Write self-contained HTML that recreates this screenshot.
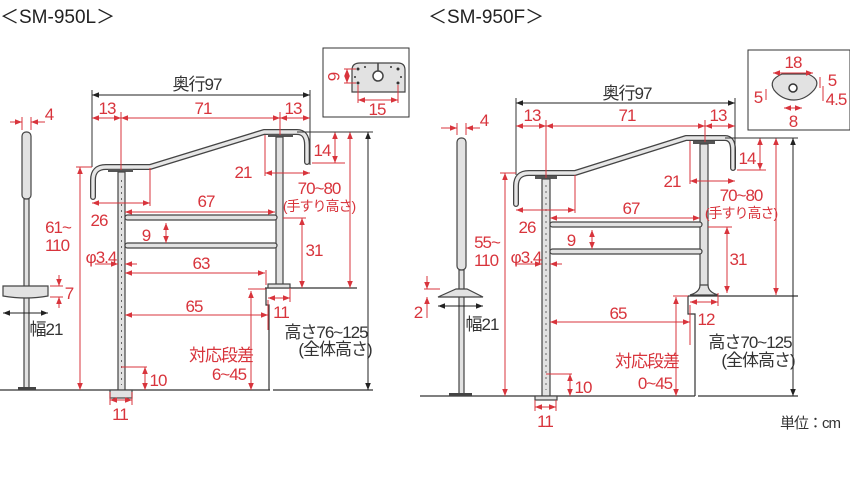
<!DOCTYPE html>
<html><head><meta charset="utf-8"><style>
html,body{margin:0;padding:0;background:#fff;}
svg{display:block;}
text{font-family:"Liberation Sans","Noto Sans CJK JP",sans-serif;}
.r{fill:#d8343c;font-size:17px;letter-spacing:-1px;text-anchor:middle;}
.k{fill:#333;font-size:17px;letter-spacing:-1px;text-anchor:middle;}
.d{stroke:#d8343c;stroke-width:1;fill:none;marker-start:url(#a);marker-end:url(#a);}
.e{stroke:#d8343c;stroke-width:1;fill:none;}
.kd{stroke:#222;stroke-width:1;fill:none;marker-start:url(#b);marker-end:url(#b);}
.g{stroke:#333;stroke-width:1.2;fill:none;}
.rail{stroke:#444;stroke-width:6;fill:none;stroke-linecap:round;stroke-linejoin:round;}
.rail2{stroke:#e6e6e6;stroke-width:3.4;fill:none;stroke-linecap:round;stroke-linejoin:round;}
.p{fill:#e2e2e2;stroke:#444;stroke-width:1.2;}
</style></head><body>
<svg width="850" height="500" viewBox="0 0 850 500" xmlns="http://www.w3.org/2000/svg">
<defs>
<marker id="a" viewBox="0 0 10 10" refX="10" refY="5" markerWidth="7" markerHeight="7" orient="auto-start-reverse"><path d="M0,1 L10,5 L0,9 z" fill="#d8343c"/></marker>
<marker id="b" viewBox="0 0 10 10" refX="10" refY="5" markerWidth="7" markerHeight="7" orient="auto-start-reverse"><path d="M0,1 L10,5 L0,9 z" fill="#222"/></marker>
</defs>

<text x="0" y="23" style="font-size:19px;fill:#222">＜SM-950L＞</text>
<text x="428" y="23" style="font-size:19px;fill:#222">＜SM-950F＞</text>

<!-- ===== LEFT ===== -->
<line x1="0" y1="390" x2="270" y2="390" class="g"/>
<line x1="273" y1="390" x2="373" y2="390" class="g"/>
<polyline points="265,288 357,288" class="g"/>
<polyline points="266,288 266,305 269,305 269,390" class="g"/>
<rect x="22" y="132" width="9" height="67" rx="4" class="p"/>
<rect x="24" y="199" width="5" height="190" class="p"/>
<path d="M3,286 h45 v10 q-22,4 -45,0 z" class="p"/>
<rect x="18" y="387" width="18" height="3" fill="#444"/>
<path d="M93,197 V180 Q93,167 106,167 H150 L264,132 H297 Q307,132 307,145 V162" class="rail"/>
<path d="M93,197 V180 Q93,167 106,167 H150 L264,132 H297 Q307,132 307,145 V162" class="rail2"/>
<rect x="108" y="169" width="25" height="3" fill="#555"/>
<rect x="118" y="172" width="7" height="218" class="p"/>
<line x1="121.5" y1="180" x2="121.5" y2="385" stroke="#666" stroke-dasharray="2,4"/>
<rect x="110" y="390" width="22" height="8" class="p"/>
<rect x="268" y="134" width="25" height="3" fill="#555"/>
<rect x="276" y="137" width="7" height="150" class="p"/>
<rect x="268" y="284" width="22" height="4" class="p"/>
<rect x="125" y="215" width="152" height="5" rx="2.5" class="p"/>
<rect x="125" y="243" width="152" height="5" rx="2.5" class="p"/>
<rect x="323" y="48" width="86" height="69" fill="#fff" stroke="#333"/>
<path d="M352,92 V70 Q352,63 360,63 H398 Q405,63 405,70 V92 z" class="p"/>
<circle cx="378" cy="76" r="5" fill="#fff" stroke="#444" stroke-width="1.5"/>
<line x1="378" y1="63" x2="378" y2="71" stroke="#444" stroke-width="1.5"/>
<g fill="#333"><circle cx="358" cy="69" r="1.5"/><circle cx="358" cy="83" r="1.5"/><circle cx="398" cy="69" r="1.5"/><circle cx="398" cy="83" r="1.5"/><circle cx="355" cy="77" r="1"/><circle cx="401" cy="77" r="1"/><circle cx="365" cy="67" r="1"/><circle cx="391" cy="67" r="1"/></g>
<line x1="347" y1="69" x2="347" y2="83" class="d"/>
<line x1="344" y1="69" x2="356" y2="69" class="e"/><line x1="344" y1="83" x2="356" y2="83" class="e"/>
<text class="r" transform="translate(333,76) rotate(90)" y="5">6</text>
<line x1="358" y1="100" x2="398" y2="100" class="d"/>
<line x1="358" y1="85" x2="358" y2="103" class="e"/><line x1="398" y1="85" x2="398" y2="103" class="e"/>
<text class="r" x="377" y="115">15</text>
<text class="k" x="197" y="90">奥行97</text>
<line x1="92" y1="95" x2="310" y2="95" class="kd"/>
<line x1="92" y1="90" x2="92" y2="167" stroke="#333"/><line x1="310" y1="90" x2="310" y2="165" stroke="#333"/>
<line x1="92" y1="118" x2="121" y2="118" class="d"/><line x1="121" y1="118" x2="280" y2="118" class="d"/><line x1="280" y1="118" x2="310" y2="118" class="d"/>
<line x1="121" y1="112" x2="121" y2="170" class="e"/><line x1="280" y1="112" x2="280" y2="135" class="e"/>
<text class="r" x="107" y="114">13</text><text class="r" x="203" y="114">71</text><text class="r" x="293" y="114">13</text>
<line x1="10" y1="122" x2="22" y2="122" class="e" style="marker-end:url(#a)"/><line x1="45" y1="122" x2="31" y2="122" class="e" style="marker-end:url(#a)"/>
<line x1="22" y1="117" x2="22" y2="130" class="e"/><line x1="31" y1="117" x2="31" y2="130" class="e"/>
<text class="r" x="49" y="120">4</text>
<line x1="80" y1="167" x2="80" y2="390" class="d"/><line x1="76" y1="167" x2="92" y2="167" class="e"/>
<text class="r" x="58" y="233">61~</text><text class="r" x="57" y="251">110</text>
<line x1="59" y1="275" x2="59" y2="286" class="e" style="marker-end:url(#a)"/><line x1="59" y1="308" x2="59" y2="297" class="e" style="marker-end:url(#a)"/>
<line x1="50" y1="286" x2="63" y2="286" class="e"/><line x1="50" y1="297" x2="63" y2="297" class="e"/>
<text class="r" x="69" y="299">7</text>
<line x1="3" y1="313" x2="48" y2="313" class="kd"/>
<text class="k" x="46" y="335">幅21</text>
<line x1="92" y1="203" x2="150" y2="203" class="d"/><line x1="150" y1="168" x2="150" y2="206" class="e"/>
<text class="r" x="99" y="226">26</text>
<line x1="125" y1="212" x2="275" y2="212" class="d"/><text class="r" x="206" y="207">67</text>
<line x1="166" y1="223" x2="166" y2="243" class="d"/><text class="r" x="146" y="241">9</text>
<line x1="95" y1="264" x2="118" y2="264" class="e" style="marker-end:url(#a)"/><line x1="137" y1="264" x2="125" y2="264" class="e" style="marker-end:url(#a)"/>
<text class="r" x="101" y="263">φ3.4</text>
<line x1="125" y1="273" x2="265" y2="273" class="d"/><line x1="266" y1="270" x2="266" y2="285" class="e"/>
<text class="r" x="201" y="269">63</text>
<line x1="125" y1="315" x2="268" y2="315" class="d"/><line x1="268" y1="300" x2="268" y2="330" class="e"/>
<text class="r" x="194" y="312">65</text>
<line x1="251" y1="291" x2="251" y2="390" class="d"/><line x1="248" y1="289" x2="266" y2="289" class="e"/>
<text class="r" x="221" y="361">対応段差</text><text class="r" x="229" y="380">6~45</text>
<line x1="145" y1="367" x2="145" y2="390" class="d"/><line x1="121" y1="367" x2="147" y2="367" class="e"/>
<text class="r" x="158" y="386">10</text>
<line x1="110" y1="400" x2="132" y2="400" class="d"/><line x1="110" y1="392" x2="110" y2="405" class="e"/><line x1="132" y1="392" x2="132" y2="405" class="e"/>
<text class="r" x="120" y="420">11</text>
<line x1="268" y1="298" x2="290" y2="298" class="d"/><line x1="290" y1="288" x2="290" y2="302" class="e"/>
<text class="r" x="281" y="318">11</text>
<line x1="265" y1="173" x2="310" y2="173" class="d"/><line x1="265" y1="135" x2="265" y2="176" class="e"/>
<text class="r" x="243" y="178">21</text>
<line x1="335" y1="132" x2="335" y2="163" class="d"/><line x1="312" y1="163" x2="345" y2="163" class="e"/>
<text class="r" x="322" y="156">14</text>
<line x1="350" y1="132" x2="350" y2="288" class="d"/>
<text class="r" x="319" y="194">70~80</text><text class="r" x="319" y="211" style="font-size:14px">(手すり高さ)</text>
<line x1="302" y1="218" x2="302" y2="288" class="d"/><line x1="283" y1="218" x2="306" y2="218" class="e"/>
<text class="r" x="314" y="256">31</text>
<line x1="297" y1="132" x2="373" y2="132" stroke="#333"/>
<line x1="368" y1="132" x2="368" y2="390" class="kd"/>
<text class="k" x="326" y="338">高さ76~125</text><text class="k" x="335" y="355">(全体高さ)</text>

<!-- ===== RIGHT ===== -->
<line x1="420" y1="396" x2="695" y2="396" class="g"/>
<line x1="698" y1="396" x2="798" y2="396" class="g"/>
<line x1="688" y1="296" x2="798" y2="296" class="g"/>
<polyline points="688,296 688,314 695,314 695,396" class="g"/>
<rect x="457" y="138" width="9" height="132" rx="4" class="p"/>
<rect x="459" y="270" width="5" height="124" class="p"/>
<path d="M438,297 L456,289 H467 L483,297 z" class="p"/>
<rect x="449" y="393" width="23" height="3" fill="#444"/>
<path d="M516,204 V186 Q516,173 529,173 H575 L686,138 H725 Q733,138 733,150 V168" class="rail"/>
<path d="M516,204 V186 Q516,173 529,173 H575 L686,138 H725 Q733,138 733,150 V168" class="rail2"/>
<rect x="535" y="176" width="22" height="3" fill="#555"/>
<rect x="542" y="179" width="8" height="217" class="p"/>
<line x1="546" y1="185" x2="546" y2="390" stroke="#666" stroke-dasharray="2,4"/>
<rect x="535" y="396" width="22" height="4" class="p"/>
<rect x="693" y="141" width="22" height="3" fill="#555"/>
<rect x="700" y="144" width="8" height="146" class="p"/>
<path d="M690,295 Q700,292 700,285 H708 Q708,292 718,295 z" class="p"/>
<rect x="550" y="222" width="152" height="5" rx="2.5" class="p"/>
<rect x="550" y="249" width="152" height="5" rx="2.5" class="p"/>
<rect x="748" y="50" width="102" height="80" fill="#fff" stroke="#333"/>
<path d="M774,90 Q768,80 782,74 H808 Q822,80 814,90 Q805,100 794,100 Q782,100 774,90 z" class="p"/>
<circle cx="793" cy="88" r="4" fill="#fff" stroke="#333" stroke-width="1.5"/>
<line x1="773" y1="73" x2="813" y2="73" class="d"/><text class="r" x="793" y="68">18</text>
<line x1="820" y1="77" x2="820" y2="88" class="e"/><text class="r" x="832" y="86">5</text>
<line x1="823" y1="86" x2="823" y2="101" class="e"/><text class="r" x="836" y="105">4.5</text>
<line x1="766" y1="89" x2="766" y2="100" class="e"/><text class="r" x="758" y="103">5</text>
<line x1="784" y1="108" x2="802" y2="108" class="d"/><text class="r" x="793" y="127">8</text>
<text class="k" x="627" y="99">奥行97</text>
<line x1="516" y1="103" x2="735" y2="103" class="kd"/>
<line x1="516" y1="98" x2="516" y2="175" stroke="#333"/><line x1="735" y1="98" x2="735" y2="170" stroke="#333"/>
<line x1="516" y1="126" x2="546" y2="126" class="d"/><line x1="546" y1="126" x2="705" y2="126" class="d"/><line x1="705" y1="126" x2="735" y2="126" class="d"/>
<line x1="546" y1="120" x2="546" y2="178" class="e"/><line x1="705" y1="120" x2="705" y2="142" class="e"/>
<text class="r" x="532" y="121">13</text><text class="r" x="627" y="121">71</text><text class="r" x="718" y="121">13</text>
<line x1="441" y1="128" x2="457" y2="128" class="e" style="marker-end:url(#a)"/><line x1="480" y1="128" x2="466" y2="128" class="e" style="marker-end:url(#a)"/>
<line x1="457" y1="123" x2="457" y2="135" class="e"/><line x1="466" y1="123" x2="466" y2="135" class="e"/>
<text class="r" x="484" y="126">4</text>
<line x1="505" y1="173" x2="505" y2="396" class="d"/><line x1="500" y1="173" x2="516" y2="173" class="e"/>
<text class="r" x="487" y="248">55~</text><text class="r" x="486" y="266">110</text>
<line x1="427" y1="276" x2="427" y2="289" class="e" style="marker-end:url(#a)"/><line x1="427" y1="318" x2="427" y2="297" class="e" style="marker-end:url(#a)"/>
<line x1="424" y1="289" x2="440" y2="289" class="e"/>
<text class="r" x="418" y="318">2</text>
<line x1="438" y1="306" x2="483" y2="306" class="kd"/>
<text class="k" x="482" y="330">幅21</text>
<line x1="516" y1="210" x2="575" y2="210" class="d"/><line x1="575" y1="175" x2="575" y2="213" class="e"/>
<text class="r" x="527" y="233">26</text>
<line x1="550" y1="218" x2="700" y2="218" class="d"/><text class="r" x="631" y="214">67</text>
<line x1="592" y1="230" x2="592" y2="249" class="d"/><text class="r" x="571" y="246">9</text>
<line x1="515" y1="264" x2="542" y2="264" class="e" style="marker-end:url(#a)"/><line x1="562" y1="264" x2="550" y2="264" class="e" style="marker-end:url(#a)"/>
<text class="r" x="526" y="263">φ3.4</text>
<line x1="550" y1="322" x2="690" y2="322" class="d"/><line x1="690" y1="305" x2="690" y2="345" class="e"/>
<text class="r" x="618" y="319">65</text>
<line x1="676" y1="297" x2="676" y2="396" class="d"/><line x1="673" y1="296" x2="688" y2="296" class="e"/>
<text class="r" x="647" y="367">対応段差</text><text class="r" x="655" y="389">0~45</text>
<line x1="570" y1="374" x2="570" y2="396" class="d"/><line x1="546" y1="374" x2="572" y2="374" class="e"/>
<text class="r" x="583" y="393">10</text>
<line x1="535" y1="407" x2="556" y2="407" class="d"/><line x1="535" y1="400" x2="535" y2="411" class="e"/><line x1="556" y1="400" x2="556" y2="411" class="e"/>
<text class="r" x="545" y="427">11</text>
<line x1="690" y1="302" x2="718" y2="302" class="d"/><line x1="718" y1="293" x2="718" y2="306" class="e"/>
<text class="r" x="706" y="325">12</text>
<line x1="690" y1="181" x2="735" y2="181" class="d"/><line x1="690" y1="141" x2="690" y2="184" class="e"/>
<text class="r" x="672" y="187">21</text>
<line x1="760" y1="138" x2="760" y2="170" class="d"/><line x1="737" y1="170" x2="766" y2="170" class="e"/>
<text class="r" x="747" y="164">14</text>
<line x1="776" y1="138" x2="776" y2="295" class="d"/>
<text class="r" x="741" y="201">70~80</text><text class="r" x="741" y="218" style="font-size:14px">(手すり高さ)</text>
<line x1="727" y1="227" x2="727" y2="293" class="d"/><line x1="708" y1="227" x2="732" y2="227" class="e"/>
<text class="r" x="738" y="265">31</text>
<line x1="725" y1="138" x2="798" y2="138" stroke="#333"/>
<line x1="793" y1="138" x2="793" y2="396" class="kd"/>
<text class="k" x="750" y="348">高さ70~125</text><text class="k" x="758" y="366">(全体高さ)</text>
<text class="k" x="810" y="428" style="font-size:15px">単位：cm</text>
</svg>
</body></html>
